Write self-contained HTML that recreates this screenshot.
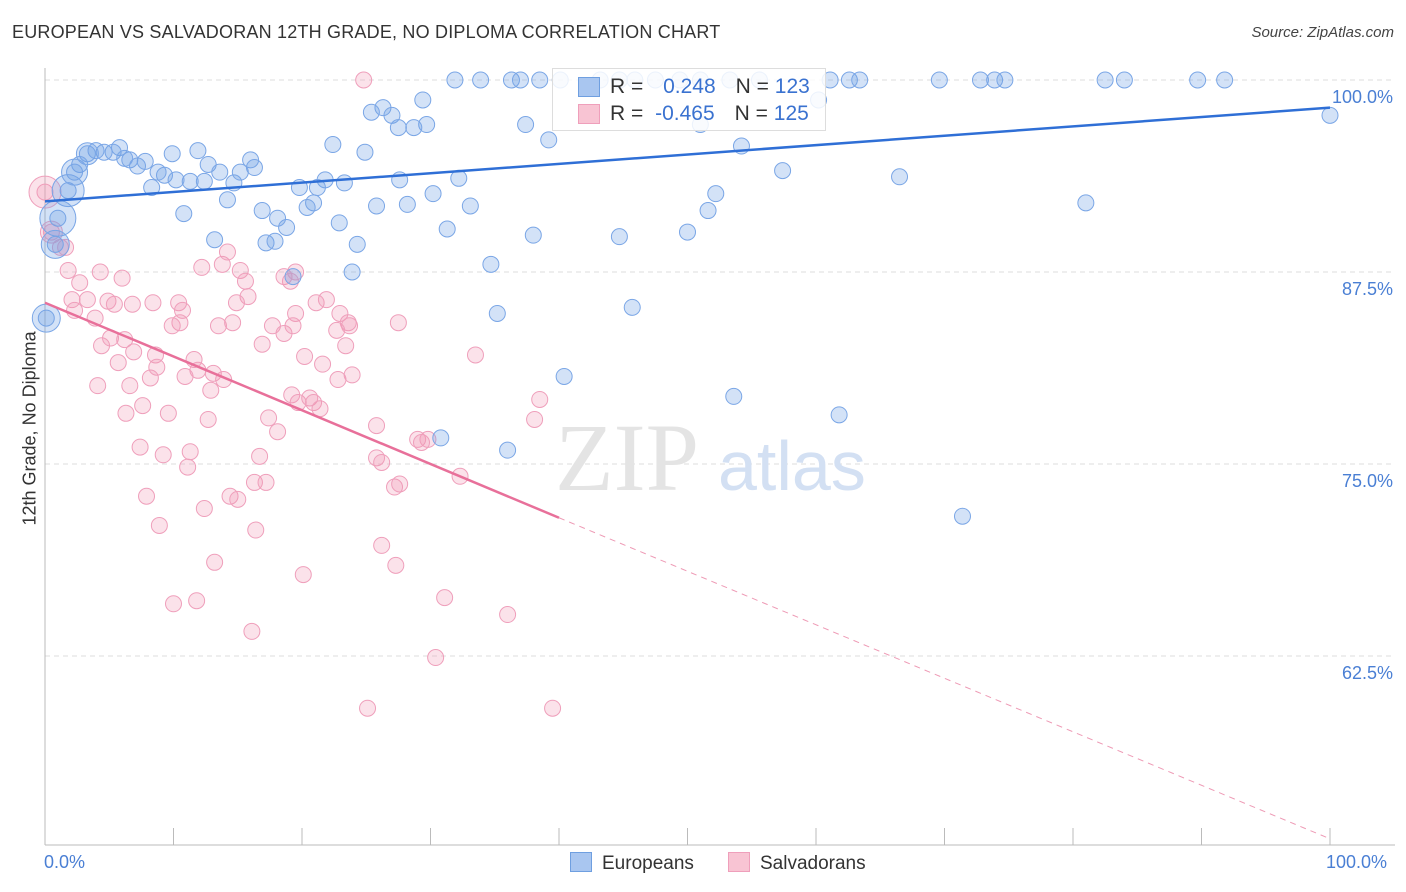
<!DOCTYPE html>
<html><head><meta charset="utf-8"><style>
body{margin:0;background:#fff;font-family:"Liberation Sans",sans-serif;}
#wrap{position:relative;width:1406px;height:892px;overflow:hidden;}
.t{position:absolute;white-space:nowrap;}
</style></head><body>
<div id="wrap">
<div class="t" style="left:12px;top:22px;font-size:18px;color:#333;letter-spacing:0.2px">EUROPEAN VS SALVADORAN 12TH GRADE, NO DIPLOMA CORRELATION CHART</div>
<div class="t" style="right:12px;top:24px;font-size:15px;color:#444;font-style:italic">Source: ZipAtlas.com</div>
<div class="t" style="left:-40px;top:445px;font-size:18px;color:#333;transform:rotate(-90deg);transform-origin:center;width:140px;text-align:center">12th Grade, No Diploma</div>
<svg id="svg" width="1406" height="892" style="position:absolute;left:0;top:0"></svg>
</div>
<script>
const yTicks=[100,87.5,75,62.5];
const yTickLabels=["100.0%","87.5%","75.0%","62.5%"];
const blueX=[31.9,33.9,36.3,37,38.5,40.1,43.2,44.7,45.9,47.5,49.4,51,53.3,55.6,61.1,62.6,63.4,69.6,72.8,73.9,74.7,82.5,84,89.7,91.8,100,60.2,51,39.2,54.2,57.4,66.5,81,52.2,51.6,50,44.7,38,34.7,35.2,45.7,40.4,53.6,61.8,71.4,30.8,36,29.4,26.3,25.4,27,27.5,29.7,28.7,37.4,22.4,24.9,32.2,27.6,23.3,21.8,21.2,19.8,30.2,33.1,28.2,25.8,20.9,20.4,22.9,31.3,24.3,23.9,19.3,18.8,18.1,16.9,17.2,17.9,14.2,13.2,10.8,14.7,16,16.3,15.2,12.7,11.9,13.6,12.4,11.3,10.2,9.3,8.3,9.9,8.8,7.8,6.6,7.2,5.8,5.3,4.6,6.2,3.97,3.3,2.7,2.3,1.8,1.0,0.8,0.1];
const blueY=[100,100,100,100,100,100,100,100,100,100,100,100,100,100,100,100,100,100,100,100,100,100,100,100,100,97.7,98.7,97.1,96.1,95.7,94.1,93.7,92,92.6,91.5,90.1,89.8,89.9,88,84.8,85.2,80.7,79.4,78.2,71.6,76.7,75.9,98.7,98.2,97.9,97.7,96.9,97.1,96.9,97.1,95.8,95.3,93.6,93.5,93.3,93.5,93,93,92.6,91.8,91.9,91.8,92,91.7,90.7,90.3,89.3,87.5,87.2,90.4,91,91.5,89.4,89.5,92.2,89.6,91.3,93.3,94.8,94.3,94,94.5,95.4,94,93.4,93.4,93.5,93.8,93,95.2,94,94.7,94.8,94.4,95.6,95.3,95.3,94.9,95.4,95.2,94.5,94,92.8,91,89.3,84.5];
const pinkX=[24.8,0,0.5,1.2,1.6,1.8,2.7,2.1,2.3,3.3,3.9,4.3,4.4,4.9,5.4,6,6.8,5.7,4.1,5.1,6.2,6.9,6.6,6.3,7.6,7.4,8.4,8.6,8.2,8.7,9.6,9.2,7.9,8.9,10,10.4,10.7,10.5,9.9,11.6,11.9,10.9,11.3,11.1,12.7,12.4,11.8,13.2,12.2,13.8,14.2,13.5,14.6,13.1,12.9,13.9,14.4,15,15.2,15.6,15.8,14.9,16.9,17.4,18.1,16.7,16.3,17.2,16.4,16.1,18.6,19.5,19.1,17.7,18.6,19.5,19.3,20.2,19.2,19.7,20.6,20.9,21.4,21.1,21.9,21.6,20.1,22.95,23.6,23.7,22.7,23.4,22.8,23.9,25.8,25.8,26.2,27.2,27.6,26.2,27.3,25.1,27.5,29,29.8,29.3,32.3,31.1,30.4,33.5,38.5,38.1,36,39.5];
const pinkY=[100,92.7,90.1,89.1,89.1,87.6,86.8,85.7,85,85.7,84.5,87.5,82.7,85.6,85.4,87.1,85.4,81.6,80.1,83.2,83.1,82.3,80.1,78.3,78.8,76.1,85.5,82.1,80.6,81.3,78.3,75.6,72.9,71,65.9,85.5,85,84.2,84,81.8,81.1,80.7,75.8,74.8,77.9,72.1,66.1,68.6,87.8,88,88.8,84,84.2,80.9,79.8,80.5,72.9,72.7,87.6,86.9,85.9,85.5,82.8,78,77.1,75.5,73.8,73.8,70.7,64.1,87.2,87.5,86.9,84,83.5,84.8,84,82,79.5,79,79.3,79,78.6,85.5,85.7,81.5,67.8,84.8,84.2,84,83.7,82.7,80.5,80.8,77.5,75.4,75.1,73.5,73.7,69.7,68.4,59.1,84.2,76.6,76.6,76.4,74.2,66.3,62.4,82.1,79.2,77.9,65.2,59.1];
const bigBlue=[[1.8,92.8,16],[1.0,91,18],[0.8,89.3,14],[0.1,84.5,14],[2.3,94,13],[3.3,95.2,11]];
const bigPink=[[0,92.7,16],[0.5,90.1,11]];
const blueTrend=[92.1,98.2];
const pinkTrend=[85.5,71.5,50.6]; // at x=0, x=40, x=100

const svg=document.getElementById('svg');const NS='http://www.w3.org/2000/svg';
const X0=45,X1=1330,Y100=80,PX=192/12.5;
const sx=v=>X0+(X1-X0)*v/100, sy=v=>Y100+(100-v)*PX;
function mk(t,a){const e=document.createElementNS(NS,t);for(const k in a)e.setAttribute(k,a[k]);svg.appendChild(e);return e;}
yTicks.forEach((v,i)=>{
 const g=mk('line',{x1:45,x2:1395,y1:sy(v),y2:sy(v),stroke:'#ddd','stroke-dasharray':'5,4'});
 
 
 const t=mk('text',{x:1393,y:sy(v)+23,'text-anchor':'end','font-size':18,fill:'#4a7fd4','font-family':'Liberation Sans'});t.textContent=yTickLabels[i];
 
 
});
const ax=mk('line',{x1:45,x2:1395,y1:845,y2:845,stroke:'#bbb'});


const ay=mk('line',{x1:45,x2:45,y1:68,y2:845,stroke:'#bbb'});


for(let i=1;i<=10;i++){const tk=mk('line',{x1:sx(i*10),x2:sx(i*10),y1:828,y2:845,stroke:'#bbb'});
 
 }
const wm=mk('text',{x:555,y:490,'font-size':96,fill:'#e4e4e4','font-family':'Liberation Serif'});wm.textContent='ZIP';


const wm2=mk('text',{x:718,y:490,'font-size':70,fill:'#d3e0f3','font-family':'Liberation Sans'});wm2.textContent='atlas';


function dot(x,y,r,c){const d=mk('circle',{cx:sx(x),cy:sy(y),r:r,fill:c[0],stroke:c[1],'stroke-width':1});return d;}
const BC=['rgba(110,160,230,0.3)','#7aa6e6'],PC=['rgba(240,150,180,0.28)','#ef9fbb'];
pinkX.forEach((x,i)=>{const d=dot(x,pinkY[i],8,PC);
 
 });
bigPink.forEach(p=>{const d=dot(p[0],p[1],p[2],PC);
 
 });
blueX.forEach((x,i)=>{const d=dot(x,blueY[i],8,BC);
 
 });
bigBlue.forEach(p=>{const d=dot(p[0],p[1],p[2],BC);
 
 });
const bl=mk('line',{x1:sx(0),y1:sy(blueTrend[0]),x2:sx(100),y2:sy(blueTrend[1]),stroke:'#2f6fd6','stroke-width':2.5});


const pl=mk('line',{x1:sx(0),y1:sy(pinkTrend[0]),x2:sx(40),y2:sy(pinkTrend[1]),stroke:'#e8709a','stroke-width':2.5});


const pd=mk('line',{x1:sx(40),y1:sy(pinkTrend[1]),x2:sx(100),y2:sy(pinkTrend[2]),stroke:'#ee9ab5','stroke-width':1,'stroke-dasharray':'6,5'});


</script>
<div class="t" style="left:552px;top:68px;width:272px;height:61px;border:1px solid #ddd;background:rgba(255,255,255,0.85);font-size:21px;color:#333">
 <div style="position:absolute;left:25px;top:8px;width:20px;height:18px;background:#a9c6f0;border:1px solid #6f9fe0"></div>
 <div style="position:absolute;left:57px;top:6px">R = <span style="color:#3a72d0;margin-left:14px">0.248</span><span style="margin-left:20px">N = </span><span style="color:#3a72d0">123</span></div>
 <div style="position:absolute;left:25px;top:35px;width:20px;height:18px;background:#f8c4d3;border:1px solid #ef9fbb"></div>
 <div style="position:absolute;left:57px;top:33px">R = <span style="color:#3a72d0;margin-left:6px">-0.465</span><span style="margin-left:20px">N = </span><span style="color:#3a72d0">125</span></div>
</div>
<div class="t" style="left:44px;top:852px;font-size:18px;color:#4a7fd4">0.0%</div>
<div class="t" style="left:1326px;top:852px;font-size:18px;color:#4a7fd4">100.0%</div>
<div class="t" style="left:570px;top:852px;font-size:19px;color:#333"><span style="display:inline-block;width:20px;height:18px;background:#a9c6f0;border:1px solid #6f9fe0;vertical-align:-3px;margin-right:10px"></span>Europeans</div>
<div class="t" style="left:728px;top:852px;font-size:19px;color:#333"><span style="display:inline-block;width:20px;height:18px;background:#f8c4d3;border:1px solid #ef9fbb;vertical-align:-3px;margin-right:10px"></span>Salvadorans</div>
</body></html>
